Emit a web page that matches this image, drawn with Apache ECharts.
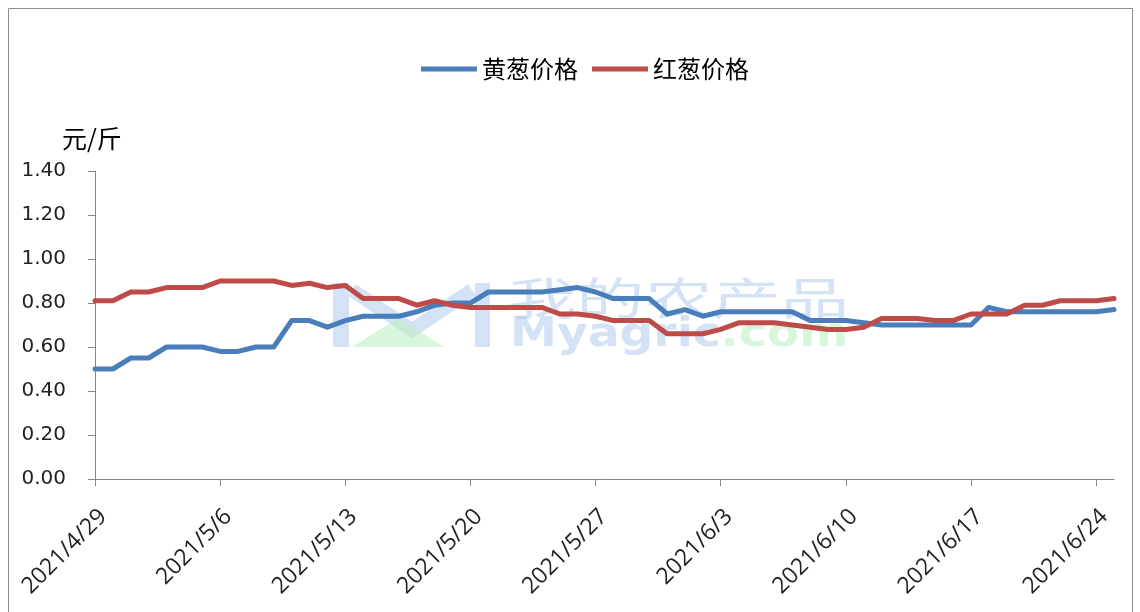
<!DOCTYPE html>
<html>
<head>
<meta charset="utf-8">
<script src="https://cdn.jsdelivr.net/npm/echarts@6/dist/echarts.min.js"></script>
<style>
  html, body { margin: 0; padding: 0; background: #fff; }
  #main { width: 1140px; height: 612px; }
</style>
</head>
<body>
<div id="main"></div>
<script>
// 日期（逐日）
const dates = [
  '2021/4/29', '2021/4/30',
  '2021/5/1', '2021/5/2', '2021/5/3', '2021/5/4', '2021/5/5', '2021/5/6', '2021/5/7', '2021/5/8',
  '2021/5/9', '2021/5/10', '2021/5/11', '2021/5/12', '2021/5/13', '2021/5/14', '2021/5/15', '2021/5/16',
  '2021/5/17', '2021/5/18', '2021/5/19', '2021/5/20', '2021/5/21', '2021/5/22', '2021/5/23', '2021/5/24',
  '2021/5/25', '2021/5/26', '2021/5/27', '2021/5/28', '2021/5/29', '2021/5/30', '2021/5/31',
  '2021/6/1', '2021/6/2', '2021/6/3', '2021/6/4', '2021/6/5', '2021/6/6', '2021/6/7', '2021/6/8',
  '2021/6/9', '2021/6/10', '2021/6/11', '2021/6/12', '2021/6/13', '2021/6/14', '2021/6/15', '2021/6/16',
  '2021/6/17', '2021/6/18', '2021/6/19', '2021/6/20', '2021/6/21', '2021/6/22', '2021/6/23', '2021/6/24',
  '2021/6/25'
];

// 黄葱价格 元/斤
const yellowPrice = [
  0.50, 0.50, 0.55, 0.55, 0.60, 0.60, 0.60, 0.58, 0.58, 0.60,
  0.60, 0.72, 0.72, 0.69, 0.72, 0.74, 0.74, 0.74, 0.76, 0.79,
  0.80, 0.80, 0.85, 0.85, 0.85, 0.85, 0.86, 0.87, 0.85, 0.82,
  0.82, 0.82, 0.75, 0.77, 0.74, 0.76, 0.76, 0.76, 0.76, 0.76,
  0.72, 0.72, 0.72, 0.71, 0.70, 0.70, 0.70, 0.70, 0.70, 0.70,
  0.78, 0.76, 0.76, 0.76, 0.76, 0.76, 0.76, 0.77
];

// 红葱价格 元/斤
const redPrice = [
  0.81, 0.81, 0.85, 0.85, 0.87, 0.87, 0.87, 0.90, 0.90, 0.90,
  0.90, 0.88, 0.89, 0.87, 0.88, 0.82, 0.82, 0.82, 0.79, 0.81,
  0.79, 0.78, 0.78, 0.78, 0.78, 0.78, 0.75, 0.75, 0.74, 0.72,
  0.72, 0.72, 0.66, 0.66, 0.66, 0.68, 0.71, 0.71, 0.71, 0.70,
  0.69, 0.68, 0.68, 0.69, 0.73, 0.73, 0.73, 0.72, 0.72, 0.75,
  0.75, 0.75, 0.79, 0.79, 0.81, 0.81, 0.81, 0.82
];

const seriesNames = ['黄葱价格', '红葱价格'];
const unitName = '元/斤';

const wmBlue = 'rgba(170,198,236,0.5)';
const wmGreen = 'rgba(190,240,195,0.6)';

const myChart = echarts.init(document.getElementById('main'));
myChart.setOption({
  animation: false,
  color: ['#4A7EBB', '#BE4B48'],
  legend: {
    data: seriesNames,
    left: 416,
    top: 52,
    icon: 'rect',
    itemWidth: 56,
    itemHeight: 5,
    itemGap: 14,
    selectedMode: false,
    textStyle: {
      fontFamily: 'Noto Sans CJK SC',
      fontSize: 24,
      color: '#000'
    }
  },
  grid: {
    left: 95,
    right: 26,
    top: 171,
    bottom: 133
  },
  graphic: [
    {
      type: 'rect',
      z: 0,
      shape: { x: 8.5, y: 8.5, width: 1124, height: 640 },
      style: { fill: 'none', stroke: '#8c8c8c', lineWidth: 1 }
    },
    {
      type: 'text',
      left: 62,
      top: 126,
      style: {
        text: unitName,
        fontFamily: 'Noto Sans CJK SC',
        fontSize: 25,
        fill: '#000'
      }
    },
    // 水印 logo
    {
      type: 'rect', z: 1,
      shape: { x: 333, y: 283, width: 16, height: 64 },
      style: { fill: wmBlue }
    },
    {
      type: 'rect', z: 1,
      shape: { x: 475, y: 283, width: 15, height: 64 },
      style: { fill: wmBlue }
    },
    {
      type: 'polyline', z: 1,
      shape: { points: [[352, 290], [412, 330], [472, 290]] },
      style: { stroke: wmBlue, lineWidth: 14, fill: 'none' }
    },
    {
      type: 'polygon', z: 1,
      shape: { points: [[352, 347], [398, 318], [444, 347]] },
      style: { fill: wmGreen }
    },
    // 水印文字
    {
      type: 'text',
      x: 508,
      y: 276,
      scaleX: 1.55,
      z: 1,
      style: {
        text: '我的农产品',
        fontFamily: 'Noto Sans CJK SC',
        fontSize: 44,
        fill: wmBlue
      }
    },
    {
      type: 'text',
      x: 510,
      y: 316,
      scaleX: 1.18,
      z: 1,
      style: {
        text: '{a|Myagric}{b|.com}',
        rich: {
          a: { fontFamily: 'DejaVu Sans', fontWeight: 'bold', fontSize: 40, fill: wmBlue },
          b: { fontFamily: 'DejaVu Sans', fontWeight: 'bold', fontSize: 40, fill: wmGreen }
        }
      }
    }
  ],
  xAxis: {
    type: 'category',
    data: dates,
    boundaryGap: false,
    axisLine: { lineStyle: { color: '#868686', width: 1 } },
    axisTick: { interval: 6, length: 7, lineStyle: { color: '#868686' } },
    axisLabel: {
      interval: 6,
      rotate: 45,
      margin: 26,
      verticalAlign: 'top',
      fontFamily: 'Open Sans',
      fontSize: 23,
      color: '#222'
    },
    splitLine: { show: false }
  },
  yAxis: {
    type: 'value',
    min: 0,
    max: 1.4,
    interval: 0.2,
    axisLine: { show: true, lineStyle: { color: '#868686', width: 1 } },
    axisTick: { show: true, length: 7, lineStyle: { color: '#868686' } },
    axisLabel: {
      margin: 29,
      fontFamily: 'DejaVu Sans',
      fontSize: 20,
      color: '#222',
      formatter: function (v) { return v.toFixed(2); }
    },
    splitLine: { show: false }
  },
  series: [
    {
      name: seriesNames[0],
      type: 'line',
      data: yellowPrice,
      symbol: 'none',
      z: 3,
      lineStyle: { width: 5, cap: 'round', join: 'round' }
    },
    {
      name: seriesNames[1],
      type: 'line',
      data: redPrice,
      symbol: 'none',
      z: 3,
      lineStyle: { width: 5, cap: 'round', join: 'round' }
    }
  ]
});
</script>
</body>
</html>
